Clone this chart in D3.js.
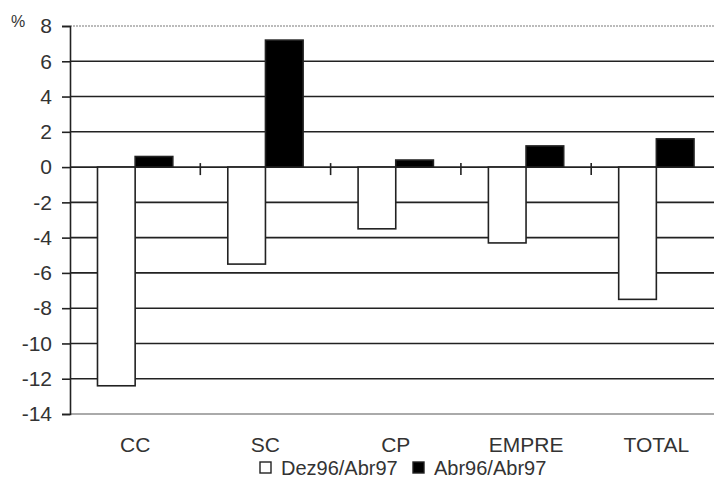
<!DOCTYPE html>
<html>
<head>
<meta charset="utf-8">
<script src="https://cdn.jsdelivr.net/npm/d3@7"></script>
<style>
  body { margin: 0; background: #fff; }
  svg text { font-family: "Liberation Sans", Arial, sans-serif; fill: #333; }
</style>
</head>
<body>
<div id="chart"></div>
<script>
// data
var categories = ["CC", "SC", "CP", "EMPRE", "TOTAL"];
var seriesNames = ["Dez96/Abr97", "Abr96/Abr97"];
var dez96Abr97 = [-12.4, -5.5, -3.5, -4.3, -7.5];
var abr96Abr97 = [0.6, 7.2, 0.4, 1.2, 1.6];
var yTicks = [8, 6, 4, 2, 0, -2, -4, -6, -8, -10, -12, -14];
var seriesFill = ["#fff", "#000"];

var width = 714, height = 484;
// plot box (window.top is reserved, so no "top" here)
var plotLeft = 70, plotRight = 721.5, plotTop = 26, plotBottom = 414;

var svg = d3.select("#chart").append("svg")
    .attr("width", width)
    .attr("height", height);

var y = d3.scaleLinear().domain([-14, 8]).range([plotBottom, plotTop]);
var x0 = d3.scaleBand().domain(categories).range([plotLeft, plotRight]).padding(0);
var x1 = d3.scaleBand().domain(seriesNames).range([0, x0.bandwidth()])
    .paddingInner(0).paddingOuter(0.73);

// gridlines
svg.append("g").selectAll("line")
    .data(yTicks)
    .enter().append("line")
    .attr("x1", plotLeft).attr("x2", plotRight)
    .attr("y1", function(d) { return y(d); })
    .attr("y2", function(d) { return y(d); })
    .attr("stroke", function(d) { return d == 8 ? "#bbb" : (d == -14 ? "#aaa" : "#222"); })
    .attr("stroke-dasharray", function(d) { return d == 8 ? "2,1" : null; })
    .attr("stroke-width", function(d) { return d == 8 || d == -14 ? 2 : 1.6; });

// category ticks on the zero line
svg.append("g").selectAll("line")
    .data(categories.slice(1))
    .enter().append("line")
    .attr("x1", function(d) { return x0(d); })
    .attr("x2", function(d) { return x0(d); })
    .attr("y1", y(0) - 4).attr("y2", y(0) + 8)
    .attr("stroke", "#222").attr("stroke-width", 1.6);

// bars
var rows = categories.map(function(c, i) {
    return { cat: c, values: [dez96Abr97[i], abr96Abr97[i]] };
});

var groups = svg.append("g").selectAll("g")
    .data(rows)
    .enter().append("g")
    .attr("transform", function(d) { return "translate(" + x0(d.cat) + ",0)"; });

groups.selectAll("rect")
    .data(function(d) { return d.values.map(function(v, j) { return { name: seriesNames[j], v: v, j: j }; }); })
    .enter().append("rect")
    .attr("x", function(d) { return x1(d.name); })
    .attr("width", x1.bandwidth())
    .attr("y", function(d) { return y(Math.max(0, d.v)); })
    .attr("height", function(d) { return Math.abs(y(d.v) - y(0)); })
    .attr("fill", function(d) { return seriesFill[d.j]; })
    .attr("stroke", "#222")
    .attr("stroke-width", 1.6);

// y axis
var yAxis = d3.axisLeft(y).tickValues(yTicks).tickSize(8).tickPadding(10)
    .tickFormat(function(d) { return d < 0 ? "-" + Math.abs(d) : d; });
var gy = svg.append("g").attr("transform", "translate(" + plotLeft + ",0)").call(yAxis);
gy.select(".domain").attr("stroke", "#222").attr("stroke-width", 1.6);
gy.selectAll(".tick line").attr("stroke", "#222").attr("stroke-width", 1.6);
gy.selectAll(".tick text")
    .style("font-size", "21px")
    .attr("fill", "#333");

svg.append("text")
    .attr("x", 11).attr("y", 27)
    .style("font-size", "16px")
    .text("%");

// category labels
svg.append("g").selectAll("text")
    .data(categories)
    .enter().append("text")
    .attr("x", function(d) { return x0(d) + x0.bandwidth() / 2; })
    .attr("y", 452)
    .attr("text-anchor", "middle")
    .style("font-size", "21px")
    .text(function(d) { return d; });

// legend
var legendX = [260, 413];
var legend = svg.append("g").selectAll("g")
    .data(seriesNames)
    .enter().append("g")
    .attr("transform", function(d, i) { return "translate(" + legendX[i] + ",462)"; });

legend.append("rect")
    .attr("width", 11).attr("height", 11)
    .attr("fill", function(d, i) { return seriesFill[i]; })
    .attr("stroke", "#222").attr("stroke-width", 1.4);

legend.append("text")
    .attr("x", 21).attr("y", 13)
    .style("font-size", "20px")
    .text(function(d) { return d; });
</script>
</body>
</html>
